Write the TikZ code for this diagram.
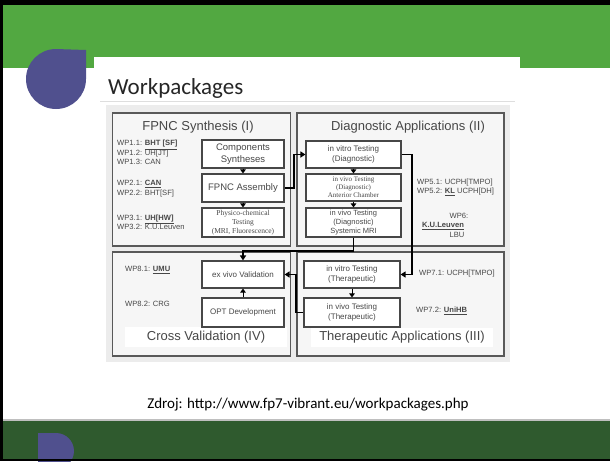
\documentclass[tikz,border=0pt]{standalone}
\usepackage{fontspec}
\setmainfont{Liberation Sans}
\newfontfamily\slidefont{Carlito}
\newfontfamily\timesfont{Liberation Serif}
\usetikzlibrary{arrows.meta}
\usetikzlibrary{positioning}

\definecolor{slidegreen}{HTML}{52A841}
\definecolor{footgreen}{HTML}{2F5A2E}
\definecolor{blobblue}{HTML}{50508E}
\definecolor{ink}{HTML}{474747}
\definecolor{diagbg}{HTML}{ECECEC}
\definecolor{panelbg}{HTML}{F6F6F6}

\tikzset{
	wpbox/.style = {draw = ink, line width = 1.1pt, fill = white, text = ink, align = center, inner sep = 0pt},
	wptext/.style = {text = ink, font = \fontsize{7.6}{9.4}\selectfont, align = left, inner sep = 0pt, anchor = west},
	paneltitle/.style = {text = ink, font = \fontsize{13}{15}\selectfont, inner sep = 1pt},
	panel/.style = {draw = ink!90, line width = 1.1pt, fill = panelbg},
	link/.style = {line width = 1.7pt, -{Triangle[length = 5pt, width = 6pt]}},
	flowtip/.style = {line width = 1pt, -{Triangle[length = 4pt, width = 5.5pt]}}
}

\begin{document}
\begin{tikzpicture}[x = 1pt, y = -1pt]
			\useasboundingbox (0, 0) rectangle (610, 461);
			% slide frame
			\fill[black] (0, 0) rectangle (610, 461);
			\fill[white] (3, 5) rectangle (610, 459);
			\fill[slidegreen] (3, 5) rectangle (610, 68);
			\fill[white] (94, 57) rectangle (520, 70);
			\fill[blobblue] (86, 50) -- (86, 79) arc[start angle = 0, end angle = 270, radius = 30] -- cycle;
			\node[anchor = base west, inner sep = 0pt, text = black!85, font = \slidefont\fontsize{23}{26}\selectfont] (title) at (108, 94) {Workpackages};
			\draw[black!13, line width = 1pt] (100, 101) -- (515, 101);
			
			% footer
			\node[font = \slidefont\fontsize{15}{17}\selectfont, inner sep = 0pt] (source) at (308, 405) {Zdroj: http://www.fp7-vibrant.eu/workpackages.php};
			\draw[black!25, line width = 1.5pt] (3, 420) -- (610, 420);
			\fill[footgreen] (3, 421) rectangle (610, 459);
			\fill[blobblue] (38, 433) -- (56, 433) arc[start angle = 270, end angle = 450, radius = 18] -- (38, 469) -- cycle;
			\fill[black] (0, 459) rectangle (610, 461);
			
			% diagram
			\fill[diagbg] (106, 105) rectangle (510, 362);
			\draw[panel] (112.7, 113) rectangle (290.7, 246);
			\draw[panel] (297, 113) rectangle (504, 246);
			\draw[panel] (112.7, 252) rectangle (290.7, 356);
			\draw[panel] (297, 252) rectangle (504, 356);
			
			\node[paneltitle] (tI) at (198, 127) {FPNC Synthesis (I)};
			\node[paneltitle] (tII) at (408, 127) {Diagnostic Applications (II)};
			\node[paneltitle, fill = white, minimum width = 162pt, minimum height = 20pt] (tIV) at (206, 337) {Cross Validation (IV)};
			\node[paneltitle, fill = white, minimum width = 182pt, minimum height = 19pt] (tIII) at (402, 337) {Therapeutic Applications (III)};
			
			\node[wptext] (wp1) at (117, 152.5) {WP1.1: \underline{\textbf{BHT [SF]}}\\WP1.2: UH[JT]\\WP1.3: CAN};
			\node[wptext] (wp2) at (117, 188.5) {WP2.1: \underline{\textbf{CAN}}\\WP2.2: BHT[SF]};
			\node[wptext] (wp3) at (117, 222) {WP3.1: \underline{\textbf{UH[HW]}}\\WP3.2: K.U.Leuven};
			\node[wptext] (wp5) at (417, 187) {WP5.1: UCPH[TMPO]\\WP5.2: \underline{\textbf{KL}} UCPH[DH]};
			\node[wptext, anchor = center] (wp6) at (459, 216) {WP6:};
			\node[wptext, anchor = center] (wp6b) at (443, 226) {\underline{\textbf{K.U.Leuven}}};
			\node[wptext, anchor = center] (wp6c) at (457, 235) {LBU};
			\node[wptext] (wp7a) at (419, 274) {WP7.1: UCPH[TMPO]};
			\node[wptext] (wp7b) at (416, 311) {WP7.2: \underline{\textbf{UniHB}}};
			\node[wptext] (wp8a) at (125, 270) {WP8.1: \underline{\textbf{UMU}}};
			\node[wptext] (wp8b) at (125, 304) {WP8.2: CRG};
			
			\node[wpbox, minimum width = 82pt, minimum height = 28pt, font = \fontsize{9.5}{11.5}\selectfont] (comp) at (243, 154) {Components\\Syntheses};
			\node[wpbox, minimum width = 82pt, minimum height = 28pt, font = \fontsize{9.5}{11.5}\selectfont] (asm) at (243, 188) {FPNC Assembly};
			\node[wpbox, minimum width = 82pt, minimum height = 29pt, font = \timesfont\fontsize{7.5}{8.8}\selectfont] (phys) at (243, 222.5) {Physico-chemical\\Testing\\(MRI, Fluorescence)};
			
			\node[wpbox, minimum width = 95pt, minimum height = 27pt, font = \fontsize{8}{10}\selectfont] (vitrodiag) at (353.5, 154.5) {in vitro Testing\\(Diagnostic)};
			\node[wpbox, minimum width = 95pt, minimum height = 27pt, font = \timesfont\fontsize{7}{8}\selectfont] (acdiag) at (353.5, 187.5) {in vivo Testing\\(Diagnostic)\\Anterior Chamber};
			\node[wpbox, minimum width = 95pt, minimum height = 29pt, font = \fontsize{7.5}{9}\selectfont] (vivodiag) at (353.5, 222.5) {in vivo Testing\\(Diagnostic)\\Systemic MRI};
			
			\node[wpbox, minimum width = 82pt, minimum height = 27pt, font = \fontsize{8}{10}\selectfont] (exvivo) at (243, 274.5) {ex vivo Validation};
			\node[wpbox, minimum width = 82pt, minimum height = 29pt, font = \fontsize{8}{10}\selectfont] (opt) at (243, 312.5) {OPT Development};
			\node[wpbox, minimum width = 96pt, minimum height = 27pt, font = \fontsize{8}{10}\selectfont] (vitrother) at (352, 274.5) {in vitro Testing\\(Therapeutic)};
			\node[wpbox, minimum width = 96pt, minimum height = 29pt, font = \fontsize{8}{10}\selectfont] (vivother) at (352, 312.5) {in vivo Testing\\(Therapeutic)};
			
			\draw[flowtip] (comp) -- (asm);
			\draw[flowtip] (asm) -- (phys);
			\draw[flowtip] (vitrodiag) -- (acdiag);
			\draw[flowtip] (acdiag) -- (vivodiag);
			\draw[flowtip] (opt) -- (exvivo);
			\draw[flowtip] (vitrother) -- (vivother);
			
			\coordinate (jA) at (294, 0);
			\coordinate (jB) at (412, 0);
			\coordinate (jC) at (0, 251);
			\coordinate (jD) at (296, 0);
			\draw[link] (asm.east) -- (asm.east -| jA) |- (vitrodiag.west);
			\draw[link] (vitrodiag.east) -- (vitrodiag.east -| jB) |- (vitrother.east);
			\draw[link] (vivodiag.south) -- (vivodiag.south |- jC) -| (exvivo.north);
			\draw[link] (vivother.west) -- (vivother.west -| jD) |- (exvivo.east);
		\end{tikzpicture}
\end{document}
